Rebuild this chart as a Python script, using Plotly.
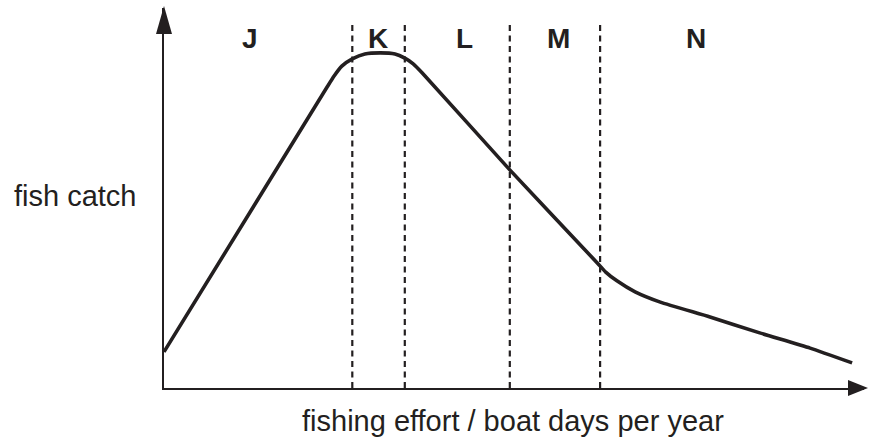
import plotly.graph_objects as go

# ---- data (arbitrary units: effort 0-100, catch 0-100) ----
effort = [0.0, 23.3, 24.3, 25.4, 26.9, 28.7, 30.9, 33.0, 34.4, 35.6, 36.9,
          49.4, 61.9, 63.1, 64.7, 67.3, 70.9, 78.0, 85.1, 92.3, 98.3]
catch = [9.5, 79.2, 82.1, 84.7, 86.6, 87.9, 88.2, 87.9, 86.8, 85.3, 82.9,
         57.4, 32.9, 30.5, 28.2, 25.3, 22.6, 18.7, 14.5, 10.5, 6.6]
zone_bounds = [26.9, 34.4, 49.4, 62.3]
zone_labels = ["J", "K", "L", "M", "N"]
zone_label_x = [12.3, 30.6, 42.9, 56.3, 76.0]
x_title = "fishing effort / boat days per year"
y_title = "fish catch"

W, H = 870, 443
INK = "#231f20"
FONT = "Liberation Sans, Arial, Helvetica, sans-serif"

def px(x):
    return x / W

def py(y):
    return 1 - y / H

fig = go.Figure()
fig.add_trace(go.Scatter(
    x=effort, y=catch, mode="lines",
    line=dict(color=INK, width=3.6, shape="spline", smoothing=0.5),
    hoverinfo="skip", showlegend=False,
))

shapes = []
for b in zone_bounds:
    shapes.append(dict(type="line", xref="x", yref="y", x0=b, x1=b, y0=0, y1=96.3,
                       line=dict(color=INK, width=2.2, dash="6px,4.5px"), layer="below"))
# arrowheads
shapes.append(dict(type="path", xref="paper", yref="paper",
                   path=f"M {px(164)},{py(6)} L {px(156)},{py(34)} L {px(172)},{py(34)} Z",
                   fillcolor=INK, line=dict(color=INK, width=0)))
shapes.append(dict(type="path", xref="paper", yref="paper",
                   path=f"M {px(868)},{py(388)} L {px(848)},{py(380)} L {px(848)},{py(396)} Z",
                   fillcolor=INK, line=dict(color=INK, width=0)))

annotations = []
for lab, lx in zip(zone_labels, zone_label_x):
    annotations.append(dict(x=lx, y=py(38), xref="x", yref="paper", text=f"<b>{lab}</b>",
                            showarrow=False, xanchor="center", yanchor="middle",
                            font=dict(family=FONT, size=28, color=INK)))
annotations.append(dict(x=px(12), y=py(196), xref="paper", yref="paper", text=y_title,
                        showarrow=False, xanchor="left", yanchor="middle",
                        font=dict(family=FONT, size=29, color=INK)))
annotations.append(dict(x=px(513), y=py(421), xref="paper", yref="paper", text=x_title,
                        showarrow=False, xanchor="center", yanchor="middle",
                        font=dict(family=FONT, size=29, color=INK)))

fig.update_layout(
    width=W, height=H,
    margin=dict(l=0, r=0, t=0, b=0),
    paper_bgcolor="white", plot_bgcolor="white",
    shapes=shapes, annotations=annotations,
    xaxis=dict(domain=[164 / W, 864 / W], range=[0, 100], showgrid=False, zeroline=False,
               showticklabels=False, ticks="", showline=True, linecolor=INK, linewidth=2.2,
               fixedrange=True),
    yaxis=dict(domain=[py(388), py(8)], range=[0, 100], showgrid=False, zeroline=False,
               showticklabels=False, ticks="", showline=True, linecolor=INK, linewidth=2.2,
               fixedrange=True),
)

fig.write_html("out.html", config={"displayModeBar": False},
               post_script="document.body.style.margin='0';document.body.style.padding='0';")
